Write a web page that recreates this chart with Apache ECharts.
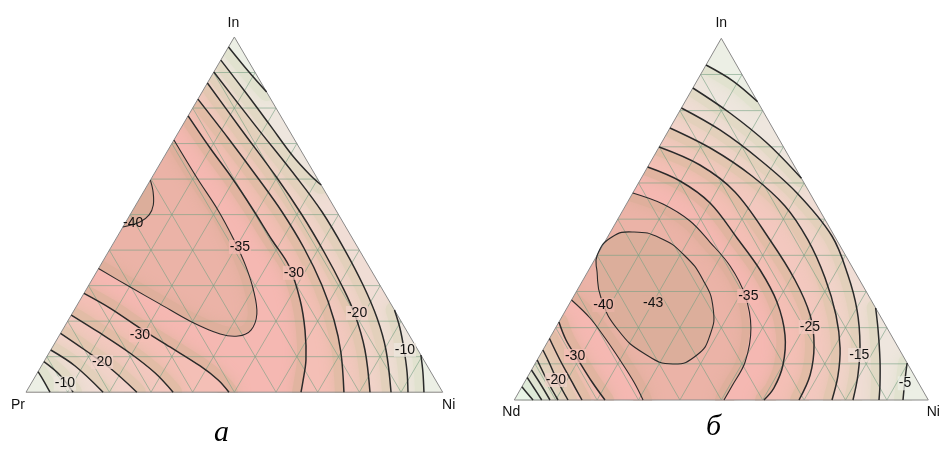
<!DOCTYPE html>
<html><head><meta charset="utf-8">
<script src="https://cdn.jsdelivr.net/npm/echarts/dist/echarts.min.js"></script>
<style>html,body{margin:0;padding:0;background:#fff}#c{width:941px;height:450px}</style>
</head><body><div id="c"></div>
<script>
// ===== DATA =====  every point is a composition [x(Ni) at.%, x(In) at.%]
// Chart "а": Pr–In–Ni. Contour levels:
const levelsA = [-40, -35, -30, -25, -20, -15, -10, -5];
const a_m40    = [[0,46.5],[3.4,47.9],[4.6,49.9],[4.2,52.7],[2.3,56.4],[0,59.7]];
const a_m35    = [[0,71.0],[10.9,60.3],[20.4,51.3],[28.5,42.85],[35.0,35.5],[40.6,28.2],[44.4,22.0],[45.25,17.5],[43.0,15.8],[38.4,16.4],[29.4,20.0],[19.8,24.8],[10.2,29.6],[0,34.8]];
const a_m30    = [[0,77.8],[9.8,68.75],[19.3,60.3],[28.3,51.86],[37.6,42.85],[45.35,35.53],[52.8,25.96],[58.2,17.5],[62.65,9.07],[65.0,2.87],[66.0,0]];
const a_m30_pr = [[48.7,0],[44.4,3.43],[38.1,7.38],[28.2,12.73],[18.3,18.07],[8.3,23.7],[0,27.84]];
const a_m25    = [[0,82.5],[12.7,71.57],[25.5,60.3],[36.1,50.73],[46.4,40.6],[55.9,30.18],[63.75,20.33],[69.9,11.32],[76.3,0]];
const a_m25_pr = [[35.3,0],[28.3,5.4],[19.4,11.04],[9.4,16.67],[0,21.73]];
const a_m20    = [[0,87.05],[14.2,74.38],[30.1,60.3],[41.3,49.89],[51.8,39.47],[60.9,29.9],[68.1,21.73],[75.4,11.88],[82.55,0]];
const a_m20_pr = [[26.6,0],[16.75,6.81],[8.2,11.88],[0,16.58]];
const a_m15    = [[0,90.15],[17.35,75.2],[34.9,60.3],[45.7,50.73],[56.5,40.03],[65.8,30.18],[73.8,20.89],[80.45,11.88],[87.6,0]];
const a_m15_pr = [[18.5,0],[8.1,7.38],[0,11.88]];
const a_m10_in = [[0,93.5],[10.7,84.23],[20.95,75.2],[30.45,66.78],[37.6,61.15],[41.67,58.33]];
const a_m10_ni = [[76.86,23.14],[80.7,18.07],[84.8,11.88],[88.6,5.69],[91.67,0]];
const a_m10_pr = [[11.3,0],[5.7,4.84],[0,8.59]];
const a_m5_in  = [[0,97.2],[8.1,90.43],[15.5,84.5]];
const a_m5_ni  = [[89.53,10.47],[92.4,5.69],[95.5,0]];
const a_m5_pr  = [[5.76,0],[2.7,3.15],[0,5.77]];
// contour labels: [value, x(Ni), x(In)]
const labelsA = [[-40,1.9,47.6],[-35,30.9,40.9],[-30,47.5,33.6],[-20,68.3,22.3],[-10,85.0,11.9],[-30,19.3,16.1],[-20,14.0,8.5],[-10,8.1,2.45]];
const cornersA = ['Pr', 'Ni', 'In'];

// Chart "б": Nd–In–Ni. Contour levels:
const levelsB = [-40, -35, -30, -25, -20, -15, -10, -5, 0];
const b_m40    = [[0,40.09],[1.05,45.07],[5.7,46.45],[12.8,44.79],[20.95,40.09],[29.0,33.18],[35.3,25.44],[38.3,17.97],[37.9,12.44],[33.35,9.95],[25.2,12.72],[15.4,19.35],[6.85,28.2],[2.3,35.39]];
const b_m35    = [[0,57.23],[8.8,54.19],[17.7,49.49],[25.4,43.68],[33.6,37.05],[41.2,29.03],[47.2,19.91],[50.5,10.51],[50.65,3.87],[50.65,0]];
const b_m35_nd = [[31.1,0],[26.4,4.98],[20.0,11.06],[13.35,17.14],[6.95,22.67],[0,27.65]];
const b_m30    = [[0,64.42],[9.75,60.55],[20.05,54.46],[31.4,44.79],[41.4,35.94],[49.9,27.09],[56.4,17.97],[60.05,9.68],[61.05,3.32],[60.31,0]];
const b_m30_nd = [[21.9,0],[16.3,4.98],[9.35,11.61],[4.2,16.59],[0,21.56]];
const b_m25    = [[0,69.95],[12.35,64.97],[24.55,57.51],[39.65,44.24],[51.2,33.18],[59.7,23.5],[64.8,15.21],[68.0,6.91],[68.77,0]];
const b_m25_nd = [[16.35,0],[11.45,4.98],[5.5,11.06],[0,17.0]];
const b_m20    = [[0,75.2],[13.05,69.39],[26.45,61.93],[38.55,53.64],[48.8,44.24],[58.2,33.73],[65.95,23.5],[71.5,14.38],[74.85,6.64],[76.74,0]];
const b_m20_nd = [[12.97,0],[7.55,5.53],[3.1,10.51],[0,13.82]];
const b_m15    = [[0,80.73],[12.35,74.65],[26.2,66.35],[39.65,57.23],[54.05,45.34],[63.3,34.56],[70.35,24.88],[75.9,15.21],[79.55,6.91],[81.81,0]];
const b_m15_nd = [[10.56,0],[6.17,4.42],[0,11.06]];
const b_m10_in = [[0,86.26],[12.4,79.35],[25.5,71.05],[38.71,61.29]];
const b_m10_ni = [[74.56,25.44],[78.2,19.35],[82.8,11.06],[86.25,4.15],[88.09,0]];
const b_m10_nd = [[8.62,0],[4.4,4.15],[0,8.29]];
const b_m5_in  = [[0,92.62],[8.75,88.19],[17.53,82.47]];
const b_m5_ni  = [[89.77,10.23],[91.6,5.53],[93.89,0]];
const b_m5_nd  = [[6.62,0],[3.1,3.32],[0,6.22]];
const b_0_nd   = [[4.52,0],[2.1,1.94],[0,3.68]];
const labelsB = [[-43,20.1,26.9],[-40,8.4,26.26],[-35,42.15,28.75],[-25,61.3,20.18],[-15,77.1,12.44],[-5,92.05,4.62],[-30,8.6,12.16],[-20,7.3,5.53]];
const cornersB = ['Nd', 'Ni', 'In'];

// triangle grid ticks (at.%)
const gridTicks = [10, 20, 30, 40, 50, 60, 70, 80, 90];
// fill colour of the band just above each level (light end)
const bandLevels = [-45, -40, -35, -30, -25, -20, -15, -10, -5, 0];
const bandColors = ['#dcae9b', '#ebb3a7', '#f5b8b2', '#f4bfb6', '#f3c8bf', '#f2d3ca', '#f0ddd5', '#eee6de', '#ecefe5', '#eaf4e7'];
// darker tone that each band takes next to its upper contour
const shadeColors = ['#dcae9b', '#dcae9b', '#dfaf9c', '#e1b4a0', '#e2bca6', '#e3c6b0', '#e3d0bb', '#e2d9c5', '#e1e2cf', '#dee9d7'];

// ===== BUILD =====
const SQ = Math.sqrt(3) / 2;
const toXY = p => [p[0] + p[1] / 2, p[1] * SQ];
const idx = L => Math.max(0, bandLevels.indexOf(L));
const bandColor = L => bandColors[idx(L)];
const shadeColor = L => shadeColors[idx(L)];
const VERT = [[0, 0], [100, 0], [0, 100]];
const FONT = '14px "Liberation Sans", Arial, sans-serif';
const SMOOTH = 0.35;

const chartA = {
  lowest: -40, levels: levelsA, labels: labelsA, corners: cornersA,
  cornerOff: [[-8, 13], [6, 13], [-1, -14]],
  pieces: [
    {level: -40, low: true, pts: a_m40},
    {level: -35, pts: a_m35},
    {level: -30, pts: a_m30}, {level: -30, pts: a_m30_pr},
    {level: -25, pts: a_m25}, {level: -25, pts: a_m25_pr},
    {level: -20, pts: a_m20}, {level: -20, pts: a_m20_pr},
    {level: -15, pts: a_m15}, {level: -15, pts: a_m15_pr},
    {level: -10, pts: a_m10_in}, {level: -10, pts: a_m10_ni}, {level: -10, pts: a_m10_pr},
    {level: -5, pts: a_m5_in}, {level: -5, pts: a_m5_ni}, {level: -5, pts: a_m5_pr}
  ]
};
const chartB = {
  lowest: -40, levels: levelsB, labels: labelsB, corners: cornersB,
  cornerOff: [[-3, 12], [5, 12], [0, -15]],
  pieces: [
    {level: -40, low: true, closed: true, pts: b_m40},
    {level: -35, pts: b_m35}, {level: -35, pts: b_m35_nd},
    {level: -30, pts: b_m30}, {level: -30, pts: b_m30_nd},
    {level: -25, pts: b_m25}, {level: -25, pts: b_m25_nd},
    {level: -20, pts: b_m20}, {level: -20, pts: b_m20_nd},
    {level: -15, pts: b_m15}, {level: -15, pts: b_m15_nd},
    {level: -10, pts: b_m10_in}, {level: -10, pts: b_m10_ni}, {level: -10, pts: b_m10_nd},
    {level: -5, pts: b_m5_in}, {level: -5, pts: b_m5_ni}, {level: -5, pts: b_m5_nd},
    {level: 0, pts: b_0_nd}
  ]
};

// perimeter parameter: 0..1 bottom (left corner->Ni), 1..2 right (Ni->In), 2..3 left (In->left corner)
function tOf(p) {
  const ni = p[0], inn = p[1], pr = 100 - ni - inn;
  const m = Math.min(ni, inn, pr);
  if (m === inn) return ni / 100;
  if (m === pr) return 1 + inn / 100;
  return 2 + pr / 100;
}
// region to the left of the contour, closed along the triangle boundary (counter-clockwise)
function region(pc) {
  if (pc.closed) return pc.pts.slice();
  const out = pc.pts.slice();
  const tE = tOf(pc.pts[pc.pts.length - 1]);
  let tS = tOf(pc.pts[0]);
  if (tS <= tE) tS += 3;
  for (let k = Math.floor(tE) + 1; k < tS; k++) out.push(VERT[k % 3]);
  return out;
}

function hexA(hex, a) {
  const n = parseInt(hex.slice(1), 16);
  return 'rgba(' + (n >> 16) + ',' + ((n >> 8) & 255) + ',' + (n & 255) + ',' + a + ')';
}

function renderChart(api, cfg) {
  const P = p => api.coord(toXY(p));
  const ch = [];
  const tri = VERT.map(P);
  ch.push({type: 'polygon', shape: {points: tri}, style: {fill: bandColor(cfg.lowest)}});
  cfg.pieces.filter(pc => pc.low).forEach(pc => {
    ch.push({type: 'polygon', shape: {points: region(pc).map(P), smooth: pc.closed ? 0.5 : 0}, style: {fill: bandColor(pc.level - 5)}});
  });
  cfg.levels.forEach(L => {
    const pcs = cfg.pieces.filter(pc => !pc.low && pc.level === L);
    pcs.forEach(pc => {
      ch.push({type: 'polyline', shape: {points: pc.pts.map(P), smooth: SMOOTH},
        style: {fill: null, stroke: shadeColor(L), lineWidth: 18, lineCap: 'round', lineJoin: 'round',
          shadowBlur: 14, shadowColor: shadeColor(L)}});
    });
    pcs.forEach(pc => {
      ch.push({type: 'polygon', shape: {points: region(pc).map(P)}, style: {fill: bandColor(L)}});
    });
  });
  // white masks outside the triangle (hide shading overflow)
  const m = 40, p0 = tri[0], p1 = tri[1], p2 = tri[2];
  ch.push({type: 'polygon', shape: {points: [p0, p2, [p2[0], p2[1] - m], [p0[0] - m, p2[1] - m], [p0[0] - m, p0[1] + m], [p0[0], p0[1] + m]]}, style: {fill: '#fff'}});
  ch.push({type: 'polygon', shape: {points: [p1, p2, [p2[0], p2[1] - m], [p1[0] + m, p2[1] - m], [p1[0] + m, p1[1] + m], [p1[0], p1[1] + m]]}, style: {fill: '#fff'}});
  ch.push({type: 'polygon', shape: {points: [[p0[0] - 1, p0[1] + 0.5], [p1[0] + 1, p1[1] + 0.5], [p1[0] + 1, p1[1] + m], [p0[0] - 1, p0[1] + m]]}, style: {fill: '#fff'}});
  gridTicks.forEach(k => {
    [[[0, k], [100 - k, k]], [[k, 0], [k, 100 - k]], [[100 - k, 0], [0, 100 - k]]].forEach(seg => {
      const a = P(seg[0]), b = P(seg[1]);
      ch.push({type: 'line', shape: {x1: a[0], y1: a[1], x2: b[0], y2: b[1]},
        style: {stroke: 'rgba(118,160,132,0.6)', lineWidth: 1}});
    });
  });
  ch.push({type: 'polygon', shape: {points: tri}, style: {fill: null, stroke: '#8a8a8a', lineWidth: 1}});
  cfg.pieces.forEach(pc => {
    ch.push({type: pc.closed ? 'polygon' : 'polyline',
      shape: {points: pc.pts.map(P), smooth: pc.closed ? 0.5 : SMOOTH},
      style: {fill: null, stroke: '#2a2a2a', lineWidth: pc.level <= -35 ? 1.1 : 1.5}});
  });
  cfg.labels.forEach(lb => {
    const c = P([lb[1], lb[2]]);
    const nearEdge = lb[1] < 3;   // label touching the triangle side: no backing box
    const bg = lb[0] < -40 ? bandColor(-45) : bandColor(lb[0]);
    ch.push({type: 'text', x: c[0], y: c[1],
      style: {text: String(lb[0]), fill: '#111', font: FONT,
        backgroundColor: nearEdge ? null : hexA(bg, 0.75), padding: [0, 1],
        align: 'center', verticalAlign: 'middle', textAlign: 'center', textVerticalAlign: 'middle'}});
  });
  cfg.corners.forEach((name, i) => {
    const c = tri[i];
    ch.push({type: 'text', x: c[0] + cfg.cornerOff[i][0], y: c[1] + cfg.cornerOff[i][1],
      style: {text: name, fill: '#111', font: FONT,
        align: 'center', verticalAlign: 'middle', textAlign: 'center', textVerticalAlign: 'middle'}});
  });
  return {type: 'group', children: ch};
}

const chart = echarts.init(document.getElementById('c'), null, {renderer: 'canvas'});
chart.setOption({
  animation: false,
  backgroundColor: '#ffffff',
  grid: [
    {left: 26, top: 37, width: 416.7, height: 355.2},
    {left: 514.3, top: 38.3, width: 414, height: 361.7}
  ],
  xAxis: [
    {type: 'value', gridIndex: 0, min: 0, max: 100, show: false},
    {type: 'value', gridIndex: 1, min: 0, max: 100, show: false}
  ],
  yAxis: [
    {type: 'value', gridIndex: 0, min: 0, max: 100 * SQ, show: false},
    {type: 'value', gridIndex: 1, min: 0, max: 100 * SQ, show: false}
  ],
  series: [
    {type: 'custom', xAxisIndex: 0, yAxisIndex: 0, silent: true, data: [[50, 40]],
      renderItem: (p, api) => renderChart(api, chartA)},
    {type: 'custom', xAxisIndex: 1, yAxisIndex: 1, silent: true, data: [[50, 40]],
      renderItem: (p, api) => renderChart(api, chartB)}
  ],
  graphic: [
    {type: 'text', z: 100, left: 214, top: 418, style: {text: 'а', fill: '#000', font: 'italic 30px "Liberation Serif", "Times New Roman", serif'}},
    {type: 'text', z: 100, left: 706, top: 412, style: {text: 'б', fill: '#000', font: 'italic 30px "Liberation Serif", "Times New Roman", serif'}}
  ]
});
</script>
</body></html>
